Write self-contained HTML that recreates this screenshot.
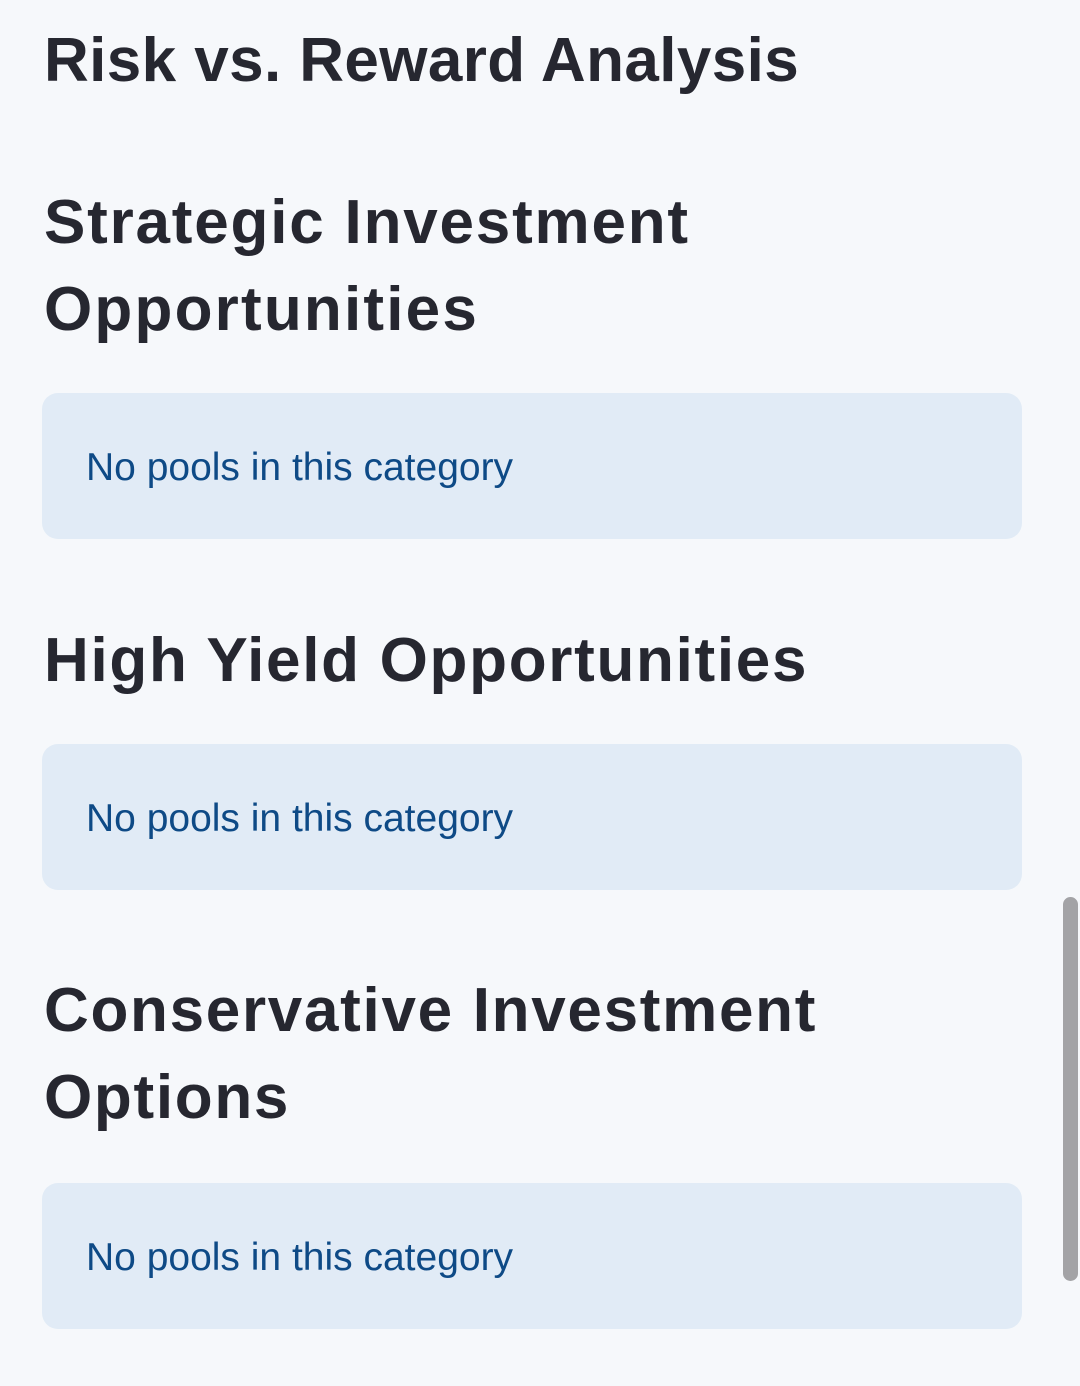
<!DOCTYPE html>
<html><head><meta charset="utf-8"><style>
html,body{margin:0;padding:0;}
body{width:1080px;height:1386px;background:#f6f8fb;position:relative;overflow:hidden;font-family:"Liberation Sans",sans-serif;color:#262730;}
.h{position:absolute;left:44px;font-size:62px;line-height:62px;font-weight:bold;white-space:nowrap;letter-spacing:1.7px;}
.box{position:absolute;left:42px;width:980px;height:146px;background:#e1ebf6;border-radius:16px;}
.box span{position:absolute;left:44px;top:55px;font-size:39px;line-height:39px;color:#0e4a86;white-space:nowrap;}
.sb{position:absolute;left:1063px;top:897px;width:15px;height:384px;background:#a3a3a6;border-radius:8px;}
</style></head><body>
<div class="h" style="top:30px;letter-spacing:0.4px">Risk vs. Reward Analysis</div>
<div class="h" style="top:192px;letter-spacing:1.8px">Strategic Investment</div>
<div class="h" style="top:279px;letter-spacing:2.2px">Opportunities</div>
<div class="box" style="top:393px"><span>No pools in this category</span></div>
<div class="h" style="top:630px">High Yield Opportunities</div>
<div class="box" style="top:744px"><span>No pools in this category</span></div>
<div class="h" style="top:980px">Conservative Investment</div>
<div class="h" style="top:1067px">Options</div>
<div class="box" style="top:1183px"><span>No pools in this category</span></div>
<div class="sb"></div>
</body></html>
